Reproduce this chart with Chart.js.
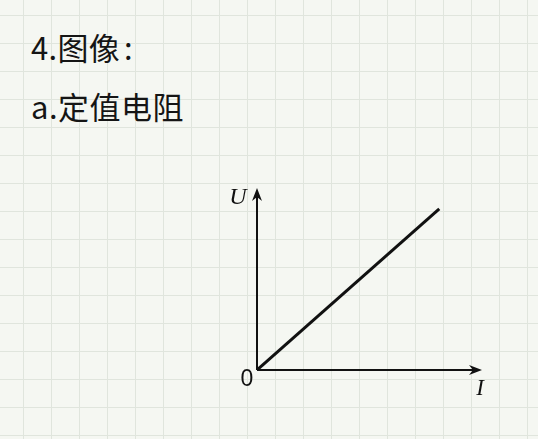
<!DOCTYPE html>
<html>
<head>
  <title>定值电阻 U-I 图像</title>
  <script src="https://cdn.jsdelivr.net/npm/chart.js@4.4.2/dist/chart.umd.min.js"></script>
  <style>
    html, body { margin: 0; padding: 0; }
    body {
      width: 538px; height: 439px; overflow: hidden; position: relative;
      background-color: #f5f7f2;
      background-image:
        linear-gradient(to right, #e0e5dd 1px, transparent 1px),
        linear-gradient(to bottom, #e0e5dd 1px, transparent 1px);
      background-size: 28px 28px;
      background-position: 23px 15px;
      font-family: "Noto Sans CJK SC", "Noto Sans", sans-serif;
    }
    .heading { position: absolute; left: 31px; font-size: 31px; color: #151515; line-height: 1; }
    #h1 { top: 31px; letter-spacing: 0.3px; }
    #h2 { top: 90px; letter-spacing: 0.5px; }
    #wrap { position: absolute; left: 0; top: 0; width: 538px; height: 439px; }
  </style>
</head>
<body>
  <div class="heading" id="h1">4.图像<span style="margin-left:4px">:</span></div>
  <div class="heading" id="h2">a.定值电阻</div>
  <div id="wrap"><canvas id="uiChart"></canvas></div>
<script>
// current I and voltage U of the straight line through the origin
const currentI = [0, 8.1];
const voltageU = [0, 8.85];
const axisMax = { x: 10, y: 10 };
const axisLabels = { x: 'I', y: 'U', origin: '0' };

const points = currentI.map((x, i) => ({ x: x, y: voltageU[i] }));

// axes with arrow heads, plus the U / I / 0 labels
const axesPlugin = {
  id: 'axesArrows',
  afterDraw(chart) {
    const ctx = chart.ctx;
    const xs = chart.scales.x, ys = chart.scales.y;
    const ox = xs.getPixelForValue(0), oy = ys.getPixelForValue(0);
    const xe = xs.getPixelForValue(axisMax.x), yt = ys.getPixelForValue(axisMax.y);
    ctx.save();
    ctx.strokeStyle = '#111';
    ctx.fillStyle = '#111';
    ctx.lineWidth = 2;
    ctx.beginPath();
    ctx.moveTo(ox, oy); ctx.lineTo(xe - 6, oy);
    ctx.moveTo(ox, oy); ctx.lineTo(ox, yt + 6);
    ctx.stroke();
    // arrow heads
    ctx.beginPath();
    ctx.moveTo(xe, oy); ctx.lineTo(xe - 13, oy - 5); ctx.lineTo(xe - 9, oy); ctx.lineTo(xe - 13, oy + 5); ctx.closePath();
    ctx.fill();
    ctx.beginPath();
    ctx.moveTo(ox, yt); ctx.lineTo(ox - 5, yt + 13); ctx.lineTo(ox, yt + 9); ctx.lineTo(ox + 5, yt + 13); ctx.closePath();
    ctx.fill();
    // labels
    ctx.textAlign = 'center';
    ctx.textBaseline = 'middle';
    ctx.font = 'italic 24px "Liberation Serif", serif';
    ctx.fillText(axisLabels.y, ox - 19, yt + 10);
    ctx.font = 'italic 23px "Liberation Serif", serif';
    ctx.fillText(axisLabels.x, xe - 2, oy + 19);
    ctx.font = '23px "Liberation Sans", sans-serif';
    ctx.fillText(axisLabels.origin, ox - 10, oy + 10);
    ctx.restore();
  }
};

const chart = new Chart(document.getElementById('uiChart'), {
  type: 'scatter',
  data: {
    datasets: [{
      data: points,
      showLine: true,
      borderColor: '#111',
      borderWidth: 3,
      pointRadius: 0,
      fill: false
    }]
  },
  options: {
    responsive: true,
    maintainAspectRatio: false,
    animation: false,
    layout: { padding: { left: 257, right: 56, top: 188, bottom: 69 } },
    plugins: { legend: { display: false }, tooltip: { enabled: false } },
    scales: {
      x: { display: false, min: 0, max: axisMax.x },
      y: { display: false, min: 0, max: axisMax.y }
    }
  },
  plugins: [axesPlugin]
});
</script>
</body>
</html>
